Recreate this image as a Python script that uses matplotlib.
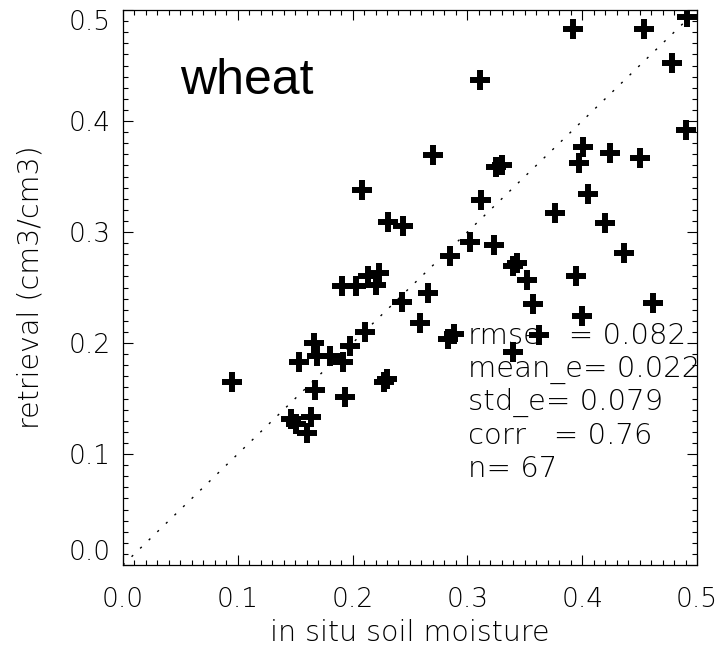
import matplotlib
matplotlib.use("Agg")
import matplotlib.pyplot as plt
from matplotlib.ticker import MultipleLocator

# in situ soil moisture (x) and retrieved soil moisture (y), cm3/cm3
insitu = [
    0.095, 0.153, 0.166, 0.169, 0.180, 0.192, 0.198, 0.167, 0.193,
    0.146, 0.151, 0.164, 0.160,
    0.211, 0.259, 0.283, 0.288, 0.227, 0.230,
    0.243, 0.266, 0.191, 0.203, 0.213, 0.220, 0.223,
    0.208, 0.231, 0.244, 0.270, 0.285, 0.302, 0.323, 0.312, 0.325, 0.330,
    0.311, 0.343, 0.340, 0.352, 0.357, 0.362, 0.340,
    0.376, 0.395, 0.400, 0.397, 0.401, 0.405, 0.420, 0.424, 0.436, 0.450,
    0.462, 0.392, 0.454, 0.478, 0.490, 0.491,
]
retrieval = [
    0.165, 0.183, 0.200, 0.188, 0.188, 0.183, 0.197, 0.158, 0.151,
    0.132, 0.127, 0.133, 0.119,
    0.210, 0.218, 0.204, 0.208, 0.165, 0.168,
    0.237, 0.245, 0.251, 0.251, 0.260, 0.252, 0.263,
    0.338, 0.309, 0.305, 0.369, 0.278, 0.291, 0.288, 0.329, 0.359, 0.360,
    0.437, 0.272, 0.269, 0.257, 0.235, 0.207, 0.192,
    0.317, 0.260, 0.224, 0.362, 0.377, 0.334, 0.308, 0.371, 0.281, 0.367,
    0.236, 0.483, 0.483, 0.452, 0.392, 0.494,
]

crop_name = "wheat"
stats_lines = [
    "rmse   = 0.082",
    "mean_e= 0.022",
    "std_e= 0.079",
    "corr   = 0.76",
    "n= 67",
]
tick_values = [0.0, 0.1, 0.2, 0.3, 0.4, 0.5]
tick_labels = ["0.0", "0.1", "0.2", "0.3", "0.4", "0.5"]

plt.rcParams["font.family"] = ["DejaVu Sans"]
plt.rcParams["font.weight"] = 200
plt.rcParams["axes.labelweight"] = 200

fig = plt.figure(figsize=(7.17, 6.52), dpi=100)
ax = fig.add_axes([0.1715, 0.1334, 0.8006, 0.8512])

ax.set_xlim(0, 0.5)
ax.set_ylim(0, 0.5)

# 1:1 reference line
ax.plot([0, 0.5], [0, 0.5], color="black", linewidth=1.0,
        linestyle=(0, (1.6, 7.0)), zorder=2)

ax.plot(insitu, retrieval, linestyle="none", marker="+", markersize=13.7,
        markeredgewidth=4.3, color="black", zorder=3)

for sp in ax.spines.values():
    sp.set_linewidth(0.9)

ax.set_xticks(tick_values)
ax.set_yticks(tick_values)
ax.set_xticklabels(tick_labels)
ax.set_yticklabels(tick_labels)
ax.xaxis.set_minor_locator(MultipleLocator(0.01))
ax.yaxis.set_minor_locator(MultipleLocator(0.01))
ax.tick_params(which="both", direction="in", top=True, right=True,
               width=0.8, labelsize=19)
ax.tick_params(which="major", length=7.0)
ax.tick_params(which="minor", length=3.5)
ax.tick_params(axis="x", which="major", pad=16)
ax.tick_params(axis="y", which="major", pad=9)

ylabels = ax.get_yticklabels()
ylabels[0].set_verticalalignment("bottom")
ylabels[-1].set_verticalalignment("top")

ax.set_xlabel("in situ soil moisture", fontsize=20.5, labelpad=5)
ax.set_ylabel("retrieval (cm3/cm3)", fontsize=20.5, labelpad=17)

ax.text(0.1, 0.849, crop_name, fontsize=36, family="Liberation Sans",
        weight="normal", transform=ax.transAxes, ha="left", va="baseline")

for i, line in enumerate(stats_lines):
    y_px = 343.7 + 33.3 * i
    ax.text(468 / 717, 1 - y_px / 652, line, fontsize=21,
            transform=fig.transFigure, ha="left", va="baseline")

fig.savefig("out.png", dpi=100)
